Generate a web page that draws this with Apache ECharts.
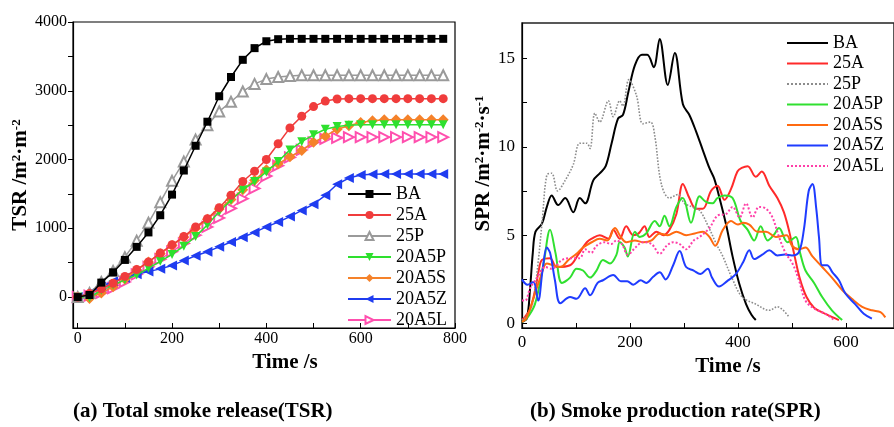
<!DOCTYPE html>
<html>
<head>
<meta charset="utf-8">
<script src="https://cdn.jsdelivr.net/npm/echarts@6/dist/echarts.min.js"></script>
<style>
  html, body { margin: 0; padding: 0; background: #fff; }
  #chart { width: 894px; height: 427px; }
</style>
</head>
<body>
<div id="chart"></div>
<script>
const seriesNames = ["BA", "25A", "25P", "20A5P", "20A5S", "20A5Z", "20A5L"];

// (a) total smoke release, one reading every 25 s
const tsrTime = [0, 25, 50, 75, 100, 125, 150, 175, 200, 225, 250, 275, 300, 325, 350, 375,
  400, 425, 450, 475, 500, 525, 550, 575, 600, 625, 650, 675, 700, 725, 750, 775];
const tsrBA = [0, 30, 210, 360, 540, 730, 940, 1190, 1490, 1840, 2200, 2550, 2920, 3200, 3450, 3620,
  3720, 3750, 3755, 3755, 3755, 3755, 3755, 3755, 3755, 3755, 3755, 3755, 3755, 3755, 3755, 3755];
const tsr25A = [0, 50, 120, 200, 300, 400, 510, 640, 760, 880, 1020, 1140, 1300, 1480, 1680, 1830,
  2000, 2230, 2460, 2630, 2770, 2850, 2880, 2885, 2885, 2885, 2885, 2885, 2885, 2885, 2885, 2885];
const tsr25P = [0, 60, 220, 380, 580, 820, 1080, 1380, 1690, 1970, 2290, 2500, 2700, 2840, 2990, 3100,
  3170, 3200, 3215, 3225, 3225, 3225, 3225, 3225, 3225, 3225, 3225, 3225, 3225, 3225, 3225, 3225];
const tsr20A5P = [0, -10, 100, 175, 250, 320, 420, 520, 620, 740, 880, 1050, 1240, 1410, 1560, 1680,
  1820, 1970, 2140, 2260, 2360, 2440, 2480, 2500, 2505, 2505, 2505, 2505, 2505, 2505, 2505, 2505];
const tsr20A5S = [0, -20, 60, 150, 260, 390, 510, 630, 750, 870, 1000, 1130, 1280, 1420, 1560, 1700,
  1850, 1940, 2040, 2130, 2250, 2340, 2440, 2490, 2540, 2565, 2580, 2580, 2580, 2580, 2580, 2580];
const tsr20A5Z = [0, 60, 150, 230, 280, 330, 370, 410, 460, 530, 600, 660, 730, 800, 870, 940,
  1020, 1090, 1170, 1260, 1350, 1480, 1640, 1730, 1775, 1785, 1790, 1790, 1790, 1790, 1790, 1790];
const tsr20A5L = [0, 20, 60, 130, 220, 330, 440, 550, 660, 780, 900, 1020, 1150, 1290, 1430, 1580,
  1760, 1910, 2030, 2140, 2250, 2300, 2315, 2325, 2325, 2325, 2325, 2325, 2325, 2325, 2325, 2325];

// (b) smoke production rate, [time s, SPR]
const sprBA = [[0,0.1],[9,0.3],[15,2],[20,4],[25,5.2],[37,5.65],[46,6.6],[55,7.25],[67,6.7],[80,7.1],
  [95,6.3],[107,7.1],[117,6.8],[132,8.1],[144,8.5],[155,8.9],[166,10.2],[178,11.6],[187,11.8],[197,13.1],
  [209,14.6],[222,15.2],[232,15.2],[244,14.5],[255,16.1],[270,13.5],[283,15.3],[298,12.4],[310,11.8],
  [322,10.9],[335,9.8],[347,8.8],[356,8.2],[365,7.2],[378,5.6],[390,3.8],[402,2.3],[415,1.1],[425,0.5],[433,0.2]];
const spr25A = [[0,0.2],[6,0.4],[15,0.8],[25,2],[31,3],[37,3.6],[52,3.7],[64,3.2],[89,3.3],[104,3.9],
  [120,4.6],[129,4.8],[144,5.0],[160,4.8],[169,5.3],[181,4.8],[193,5.5],[206,5.0],[216,5.1],[227,5.5],
  [236,4.9],[249,5.2],[262,5.0],[273,5.3],[286,6.2],[298,7.9],[310,7.1],[322,6.5],[335,6.5],[350,7.5],
  [362,7.8],[375,7.0],[387,7.6],[399,8.6],[407,8.8],[418,8.9],[433,8.3],[444,8.6],[458,7.8],[473,7.1],
  [485,6.3],[495,5.2],[505,3.8],[515,2.5],[527,1.5],[541,0.9],[562,0.55],[587,0.2]];
const spr25P = [[0,0.2],[10,0.5],[20,1.2],[30,3.5],[38,6],[46,8.4],[55,8.5],[66,7.5],[80,8.1],[95,9],
  [107,10.2],[120,10.2],[126,9.9],[135,11.9],[144,11.4],[160,12.6],[169,11.7],[181,12.6],[187,12.3],
  [198,13.8],[212,12.9],[224,11.3],[238,11.4],[246,10.6],[258,7.9],[273,7.1],[289,7.3],[301,6.8],
  [315,6.6],[329,6.4],[345,5.5],[360,4.5],[372,3.8],[390,2.5],[408,1.5],[433,1.1],[458,0.75],[473,0.95],[495,0.35]];
const spr20A5P = [[0,0.1],[9,0.3],[24,1.1],[40,3.4],[52,5.3],[62,4],[74,2.3],[89,2.6],[101,3.1],[113,3.0],
  [126,2.6],[138,3.0],[150,3.6],[163,3.4],[175,3.9],[181,4.6],[190,4.3],[196,3.8],[209,5.2],[218,4.9],
  [230,5.1],[246,5.8],[255,5.5],[264,6.1],[273,5.5],[286,6.6],[298,7.1],[313,5.7],[329,7.2],[340,6.9],
  [353,6.8],[362,7.1],[375,7.25],[390,7.1],[405,5.8],[418,5.3],[430,4.7],[442,5.5],[455,4.7],[466,5.0],
  [476,5.4],[492,4.6],[507,4.9],[515,4.0],[525,3.0],[541,2.3],[556,1.5],[574,0.75],[593,0.2]];
const spr20A5S = [[0,0.1],[8,0.3],[22,1.5],[34,2.6],[46,3.4],[58,3.3],[71,3.2],[86,3.6],[101,3.95],
  [113,4.3],[129,4.6],[144,4.8],[158,4.7],[172,5.4],[183,4.9],[193,4.6],[209,4.7],[225,4.6],[240,4.7],
  [255,5.1],[270,5.0],[286,5.2],[304,5.0],[320,5.1],[335,5.2],[347,4.9],[358,4.4],[372,5.3],[387,5.8],
  [400,5.6],[410,5.7],[421,5.6],[436,5.2],[452,5.2],[470,4.9],[490,5.0],[500,4.4],[513,4.2],[525,4.3],
  [538,3.8],[556,3.2],[574,2.6],[593,1.9],[611,1.4],[630,0.95],[648,0.75],[664,0.65],[673,0.35]];
const spr20A5Z = [[0,2.5],[10,2.2],[21,2.35],[30,1.3],[38,3],[46,4.3],[52,4.0],[61,2.45],[71,1.15],
  [89,1.5],[101,1.4],[117,2.0],[126,1.6],[140,2.3],[150,2.45],[169,2.75],[183,2.4],[195,2.4],[206,2.2],
  [220,2.45],[230,2.3],[243,2.65],[255,2.9],[266,2.5],[280,3.3],[292,4.1],[304,3.2],[318,3.0],[330,2.8],
  [344,3.1],[352,2.6],[365,2.1],[380,2.4],[396,2.8],[410,3.5],[421,4.15],[430,3.65],[445,3.9],[458,4.15],
  [473,3.85],[487,3.9],[500,3.85],[513,4.05],[522,5.3],[531,7.5],[538,7.9],[545,6.5],[550,4.9],[556,3.3],
  [565,3.3],[575,2.9],[587,2.45],[599,1.7],[617,1.1],[633,0.55],[648,0.28]];
const spr20A5L = [[0,1.3],[6,1.3],[15,2],[28,2.6],[43,3.2],[55,3.1],[74,3.6],[90,3.7],[107,3.7],[117,4.2],
  [128,4.0],[138,4.4],[153,4.6],[165,4.5],[175,4.7],[185,4.5],[196,3.9],[210,4.3],[224,4.6],[240,4.5],
  [255,3.95],[268,4.4],[280,4.6],[292,4.5],[304,4.2],[318,4.7],[329,4.9],[347,5.4],[362,6.1],[378,6.2],
  [390,6.6],[403,6.0],[415,6.8],[427,6.0],[439,6.6],[452,6.5],[464,6.0],[476,4.9],[488,4.0],[501,3.4],
  [513,2.45],[525,1.3],[541,0.85],[562,0.55],[578,0.2]];

const serif = "'Liberation Serif', 'Times New Roman', serif";
const tsrValues = [tsrBA, tsr25A, tsr25P, tsr20A5P, tsr20A5S, tsr20A5Z, tsr20A5L];
const sprValues = [sprBA, spr25A, spr25P, spr20A5P, spr20A5S, spr20A5Z, spr20A5L];

// left panel styling: colour, marker, rotation, size
const tsrStyle = [
  { color: "#000000", symbol: "rect", rotate: 0, size: 8 },
  { color: "#f03c3c", symbol: "circle", rotate: 0, size: 9 },
  { color: "#9a9a9a", symbol: "emptyTriangle", rotate: 0, size: 10 },
  { color: "#2ee02e", symbol: "triangle", rotate: 180, size: 9 },
  { color: "#f5822a", symbol: "diamond", rotate: 0, size: 11 },
  { color: "#1f3cf0", symbol: "triangle", rotate: 90, size: 10 },
  { color: "#ff4fae", symbol: "emptyTriangle", rotate: -90, size: 10 },
];
// right panel styling
const sprStyle = [
  { color: "#000000", type: "solid", width: 2 },
  { color: "#ff2a2a", type: "solid", width: 2 },
  { color: "#8c8c8c", type: "dotted", width: 1.6 },
  { color: "#30e030", type: "solid", width: 2 },
  { color: "#ff6a10", type: "solid", width: 2 },
  { color: "#1f3cff", type: "solid", width: 2 },
  { color: "#ff3fa8", type: "dotted", width: 2 },
];

const series = [];
seriesNames.forEach(function (name, i) {
  const st = tsrStyle[i];
  series.push({
    name: name,
    type: "line",
    xAxisIndex: 0,
    yAxisIndex: 0,
    data: tsrTime.map(function (t, k) { return [t, tsrValues[i][k]]; }),
    symbol: st.symbol,
    symbolRotate: st.rotate,
    symbolSize: st.size,
    showAllSymbol: true,
    lineStyle: { color: st.color, width: 1.5 },
    itemStyle: { color: st.color, borderWidth: 1.2 },
    z: 10 - i,
  });
});
seriesNames.forEach(function (name, i) {
  const st = sprStyle[i];
  series.push({
    name: "b:" + name,
    type: "line",
    xAxisIndex: 1,
    yAxisIndex: 1,
    data: sprValues[i],
    symbol: "none",
    smooth: 0.35,
    lineStyle: { color: st.color, width: st.width, type: st.type },
    itemStyle: { color: st.color },
  });
});

const plain = function (v) { return String(v); };
const axisFont = { color: "#000", fontFamily: serif, formatter: plain };
const nameFont = { color: "#000", fontFamily: serif, fontWeight: "bold", fontSize: 21 };
const supRich = {
  sup: { fontFamily: serif, fontWeight: "bold", fontSize: 13, verticalAlign: "top", color: "#000" },
};

const option = {
  animation: false,
  backgroundColor: "#fff",
  title: [
    { text: "(a) Total smoke release(TSR)", left: 73, top: 401, padding: 0,
      textStyle: { fontFamily: serif, fontWeight: "bold", fontSize: 21, color: "#000" } },
    { text: "(b) Smoke production rate(SPR)", left: 530, top: 401, padding: 0,
      textStyle: { fontFamily: serif, fontWeight: "bold", fontSize: 21, color: "#000" } },
  ],
  legend: [
    {
      data: seriesNames,
      orient: "vertical",
      left: 347,
      top: 185,
      itemWidth: 43,
      itemHeight: 10,
      itemGap: 3,
      selectedMode: false,
      padding: 0,
      textStyle: { fontFamily: serif, fontSize: 18, color: "#000" },
    },
    {
      data: seriesNames.map(function (n) { return "b:" + n; }),
      formatter: function (n) { return n.replace("b:", ""); },
      orient: "vertical",
      left: 786,
      top: 34,
      itemWidth: 41,
      itemHeight: 10,
      itemGap: 2.5,
      selectedMode: false,
      padding: 0,
      itemStyle: { opacity: 0 },
      textStyle: { fontFamily: serif, fontSize: 18, color: "#000" },
    },
  ],
  grid: [
    { left: 73, top: 22, width: 382, height: 306, show: true, borderColor: "#000", borderWidth: 1.2 },
    { left: 522, top: 23, width: 374, height: 305, show: true, borderColor: "#222", borderWidth: 1.5 },
  ],
  xAxis: [
    {
      type: "value", gridIndex: 0, min: -10, max: 800,
      name: "Time /s", nameLocation: "middle", nameGap: 19,
      nameTextStyle: Object.assign({ padding: [0, 0, 0, 42] }, nameFont),
      axisLine: { onZero: false, lineStyle: { color: "#000", width: 1.2 } },
      axisTick: { inside: true, length: 5, customValues: [0, 100, 200, 300, 400, 500, 600, 700, 800], lineStyle: { color: "#000" } },
      axisLabel: Object.assign({ fontSize: 16, margin: 3, customValues: [0, 200, 400, 600, 800] }, axisFont),
      splitLine: { show: false },
    },
    {
      type: "value", gridIndex: 1, min: 0, max: 689,
      name: "Time /s", nameLocation: "middle", nameGap: 23,
      nameTextStyle: Object.assign({ padding: [0, 0, 0, 40] }, nameFont),
      axisLine: { onZero: false, lineStyle: { color: "#000", width: 1.2 } },
      axisTick: { inside: true, length: 5, customValues: [0, 100, 200, 300, 400, 500, 600], lineStyle: { color: "#000" } },
      axisLabel: Object.assign({ fontSize: 17, margin: 6, customValues: [0, 200, 400, 600] }, axisFont),
      splitLine: { show: false },
    },
  ],
  yAxis: [
    {
      type: "value", gridIndex: 0, min: -450, max: 4000,
      name: "TSR /m{sup|2}·m{sup|-2}", nameLocation: "middle", nameGap: 42, nameRotate: 90,
      nameTextStyle: Object.assign({ rich: supRich }, nameFont),
      axisLine: { onZero: false, lineStyle: { color: "#000", width: 1.2 } },
      axisTick: { inside: false, length: 5, customValues: [0, 500, 1000, 1500, 2000, 2500, 3000, 3500, 4000], lineStyle: { color: "#000" } },
      axisLabel: Object.assign({ fontSize: 16, margin: 6, customValues: [0, 1000, 2000, 3000, 4000] }, axisFont),
      splitLine: { show: false },
    },
    {
      type: "value", gridIndex: 1, min: -0.25, max: 17,
      name: "SPR /m{sup|2}·m{sup|-2}·s{sup|-1}", nameLocation: "middle", nameGap: 24, nameRotate: 90,
      nameTextStyle: Object.assign({ rich: supRich, padding: [0, 0, 0, 24] }, nameFont),
      axisLine: { onZero: false, lineStyle: { color: "#000", width: 1.2 } },
      axisTick: { inside: true, length: 5, customValues: [0, 2.5, 5, 7.5, 10, 12.5, 15], lineStyle: { color: "#000" } },
      axisLabel: Object.assign({ fontSize: 17, margin: 7, customValues: [0, 5, 10, 15] }, axisFont),
      splitLine: { show: false },
    },
  ],
  series: series,
};

const chart = echarts.init(document.getElementById("chart"));
chart.setOption(option);
</script>
</body>
</html>
